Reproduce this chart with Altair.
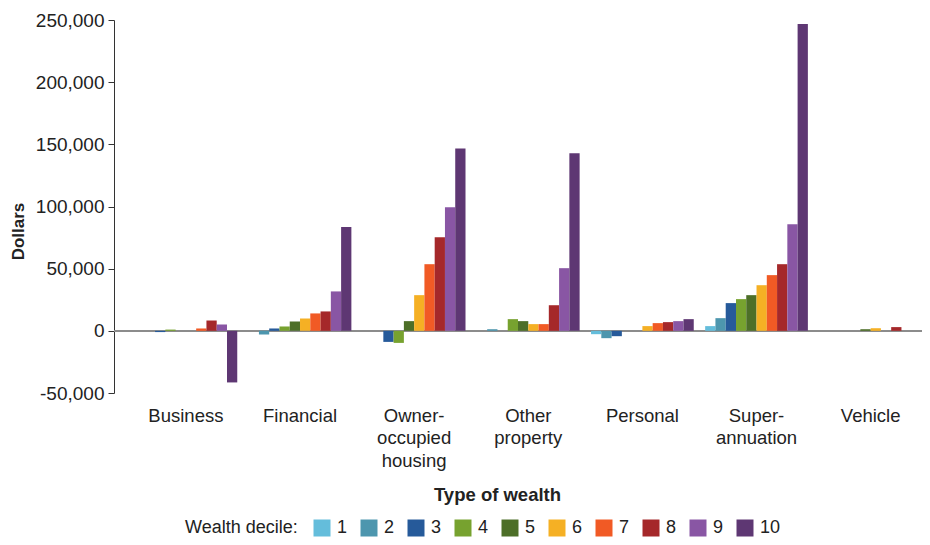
import altair as alt
import pandas as pd

categories = ["Business", "Financial", "Owner-|occupied|housing", "Other|property",
              "Personal", "Super-|annuation", "Vehicle"]
deciles = [1, 2, 3, 4, 5, 6, 7, 8, 9, 10]

business = [0, 0, -1000, 1000, 0, 0, 1900, 8300, 5100, -41500]
financial = [0, -3000, 1900, 3500, 7500, 9900, 14000, 15600, 31700, 83600]
owner_occupied = [0, 0, -8900, -9700, 7800, 28700, 53600, 75300, 99400, 146600]
other_property = [0, 1300, 0, 9400, 7800, 5400, 5400, 20600, 50400, 142800]
personal = [-2700, -5900, -4300, 0, 0, 3800, 6200, 7000, 7800, 9400]
superannuation = [3800, 10200, 22300, 25500, 28700, 36700, 44800, 53600, 85800, 246800]
vehicle = [0, 0, 0, 0, 1300, 2100, 0, 3000, 0, 0]

colors = ["#64BDDB", "#4D96AE", "#265A9A", "#77A22F", "#4D6F28",
          "#F5B024", "#F15A25", "#A5282A", "#8956A4", "#5E3773"]

y_ticks = [-50000, 0, 50000, 100000, 150000, 200000, 250000]

series = [business, financial, owner_occupied, other_property, personal, superannuation, vehicle]
rows = []
for cat, vals in zip(categories, series):
    for d, v in zip(deciles, vals):
        rows.append({"category": cat, "decile": d, "value": v})
df = pd.DataFrame(rows)

FONT = "Liberation Sans"
TXT = "#222222"

zero = alt.Chart(df).mark_rule(color="#8c8c8c", strokeWidth=1.5).encode(
    y=alt.datum(0)
)

bars = alt.Chart(df).mark_bar().encode(
    x=alt.X(
        "category:N",
        sort=categories,
        scale=alt.Scale(paddingInner=0.1, paddingOuter=0.09, align=1),
        axis=alt.Axis(
            title="Type of wealth",
            labelExpr="split(datum.label, '|')",
            labelAngle=0,
            labelFontSize=18.5,
            labelLineHeight=22.5,
            labelPadding=13,
            labelColor=TXT,
            domain=False,
            ticks=False,
            titleFontSize=18.5,
            titleFontWeight="bold",
            titleColor=TXT,
            titleX=383,
            titleY=107,
            titleBaseline="alphabetic",
            titleAlign="center",
        ),
    ),
    xOffset=alt.XOffset("decile:O", sort=deciles,
                        scale=alt.Scale(paddingInner=0, paddingOuter=0)),
    y=alt.Y(
        "value:Q",
        scale=alt.Scale(domain=[-50000, 250000], nice=False, zero=False),
        axis=alt.Axis(
            title="Dollars",
            values=y_ticks,
            labelExpr="datum.value < 0 ? '-' + format(-datum.value, ',') : format(datum.value, ',')",
            labelFontSize=19,
            labelColor=TXT,
            labelPadding=4,
            tickSize=6,
            tickColor="#333333",
            domainColor="#333333",
            grid=False,
            titleFontSize=17,
            titleFontWeight="bold",
            titleColor=TXT,
            titleX=-96,
            titleY=211,
            titleBaseline="middle",
            titleAlign="center",
        ),
    ),
    color=alt.Color(
        "decile:O",
        sort=deciles,
        scale=alt.Scale(domain=deciles, range=colors),
        legend=alt.Legend(
            title="Wealth decile:",
            orient="none",
            legendX=71,
            legendY=499,
            direction="horizontal",
            titleOrient="left",
            titleFontSize=18,
            titleFontWeight="normal",
            titleColor=TXT,
            titlePadding=15,
            labelFontSize=18,
            labelColor=TXT,
            labelOffset=6,
            columnPadding=12,
            symbolType="square",
            symbolSize=289,
            symbolStrokeWidth=0,
            symbolOpacity=1,
        ),
    ),
)

chart = alt.layer(zero, bars).properties(
    width=808,
    height=373,
    autosize=alt.AutoSizeParams(type="none"),
    padding={"left": 106, "top": 12, "right": 0, "bottom": 144},
).configure(font=FONT).configure_view(stroke=None)

chart.save("out.html", embed_options={"renderer": "svg", "actions": False})
